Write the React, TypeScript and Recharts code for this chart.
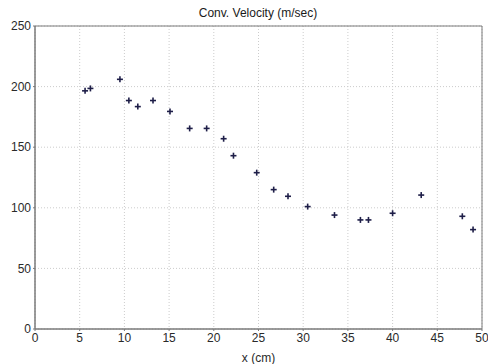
import { ScatterChart, Scatter, XAxis, YAxis, CartesianGrid, ReferenceArea } from 'recharts';

const xs = [5.6, 6.2, 9.5, 10.5, 11.5, 13.2, 15.1, 17.3, 19.2, 21.1, 22.2, 24.8, 26.7, 28.3, 30.5, 33.5, 36.4, 37.3, 40.0, 43.2, 47.8, 49.0];
const velocities = [196.5, 198.5, 206, 188.5, 183.5, 188.5, 179.5, 165.5, 165.5, 157, 143, 129, 115, 109.5, 101, 94, 90, 90, 95.5, 110.5, 93, 82];
const xTicks = [0, 5, 10, 15, 20, 25, 30, 35, 40, 45, 50];
const yTicks = [0, 50, 100, 150, 200, 250];

const data = xs.map((x, i) => ({ x, v: velocities[i] }));

const AXIS_COLOR = '#7a7a7a';
const FONT = 'Liberation Sans, Arial, sans-serif';
const TICK = { fontSize: 12, fill: '#2a2a2a', fontFamily: FONT };

function Plus(props: any) {
  const { cx, cy } = props;
  if (cx == null || cy == null) return null;
  return (
    <g stroke="#1e1e48" strokeWidth={1.6}>
      <line x1={cx - 3} y1={cy} x2={cx + 3} y2={cy} />
      <line x1={cx} y1={cy - 3} x2={cx} y2={cy + 3} />
    </g>
  );
}

export default function App() {
  return (
    <div style={{ position: 'absolute', left: 0, top: 0, width: 488, height: 364, background: '#fff' }}>
      <ScatterChart width={488} height={364} margin={{ top: 26, right: 6, bottom: 0, left: 0 }}>
        <text x={258} y={17} textAnchor="middle" fontSize={12} fill="#1a1a1a" fontFamily={FONT}>
          Conv. Velocity (m/sec)
        </text>
        <CartesianGrid strokeDasharray="1 2" stroke="#cccccc" />
        <XAxis
          type="number"
          dataKey="x"
          domain={[0, 50]}
          ticks={xTicks}
          allowDataOverflow
          height={35}
          stroke={AXIS_COLOR}
          tick={TICK}
          tickSize={2}
          tickLine={{ stroke: AXIS_COLOR }}
          label={{ value: 'x (cm)', position: 'insideBottom', offset: 2, style: TICK }}
        />
        <YAxis
          type="number"
          dataKey="v"
          domain={[0, 250]}
          ticks={yTicks}
          allowDataOverflow
          width={35}
          stroke={AXIS_COLOR}
          tick={TICK}
          tickSize={2}
          tickLine={{ stroke: AXIS_COLOR }}
        />
        <ReferenceArea x1={0} x2={50} y1={0} y2={250} fill="none" stroke={AXIS_COLOR} strokeWidth={1} />
        <Scatter data={data} shape={<Plus />} isAnimationActive={false} />
      </ScatterChart>
    </div>
  );
}
